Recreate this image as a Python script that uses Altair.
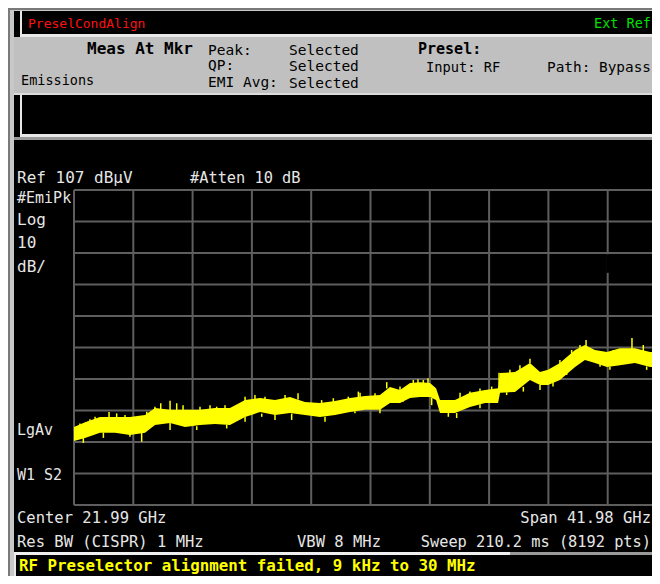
import altair as alt
import pandas as pd

# ---------------- data ----------------
# Trace envelope (frequency in GHz, upper / lower edge of the noisy trace in dBuV)
freq_ghz = [1.00, 1.78, 2.84, 3.90, 4.96, 6.03, 6.73, 7.80, 8.86, 9.92, 10.98, 12.04,
            13.11, 14.17, 15.23, 16.29, 17.35, 18.41, 19.48, 20.54, 21.60, 22.66, 23.37,
            24.08, 24.79, 25.49, 26.20, 26.63, 26.91, 27.97, 29.03, 30.10, 31.02, 31.16,
            32.22, 33.28, 33.99, 34.56, 35.40, 36.47, 37.17, 37.88, 38.73, 39.65, 40.71,
            41.78, 42.48]
trace_hi = [31.8, 33.3, 34.9, 34.9, 34.9, 35.6, 37.8, 37.2, 37.2, 37.2, 37.8, 37.8,
            40.3, 41.0, 40.3, 41.3, 39.7, 39.4, 40.0, 41.0, 41.6, 41.9, 44.5,
            43.5, 45.7, 46.0, 45.7, 44.1, 40.3, 40.3, 42.6, 43.5, 44.1, 48.9,
            49.2, 52.1, 49.2, 49.9, 52.1, 56.2, 57.8, 56.2, 55.6, 56.8, 56.8,
            55.6, 55.3]
trace_lo = [27.3, 28.3, 29.9, 29.9, 29.2, 29.9, 32.4, 33.0, 31.8, 32.4, 32.7, 32.4,
            34.9, 36.5, 35.6, 36.2, 35.6, 34.9, 35.6, 36.5, 37.2, 37.2, 39.4,
            39.4, 41.0, 41.3, 41.3, 40.3, 36.2, 36.2, 38.1, 39.4, 39.4, 42.6,
            42.9, 46.7, 45.1, 45.1, 46.7, 50.8, 53.0, 52.1, 50.8, 51.4, 52.1,
            50.8, 50.8]

# Individual noise spikes (frequency GHz, edge of band, tip) in dBuV
spike_f = [3.48, 7.14, 7.80, 8.72, 13.11, 15.94, 16.86, 21.25, 23.14, 25.35, 26.06,
           28.33, 31.09, 33.28, 37.25, 40.50,
           1.42, 2.13, 2.49, 4.02, 4.61, 6.15, 6.73, 8.27, 9.92, 10.63, 11.10, 11.69,
           13.81, 14.52, 18.53, 19.36, 20.42, 21.13, 22.31, 24.08, 25.02, 25.73, 29.03,
           29.74, 30.57, 31.86, 32.57, 35.40, 36.23, 36.82, 39.18, 41.30, 42.13,
           5.79, 13.11, 15.23, 28.09, 33.99, 34.91, 38.24, 41.54,
           1.66, 3.08, 4.96, 7.80, 9.69, 11.81, 14.29, 16.41, 18.77, 20.89, 22.66,
           24.29, 26.32, 27.50, 29.74, 31.63, 32.81, 35.88, 38.94, 42.25]
spike_base = [34.5, 37.0, 37.0, 37.0, 40.0, 40.5, 40.5, 41.3, 44.0, 45.5, 45.5,
              40.5, 44.0, 52.0, 57.5, 56.5,
              32.0, 33.5, 34.0, 34.5, 34.5, 35.5, 37.0, 37.0, 37.0, 37.5, 37.5, 37.5,
              40.5, 40.5, 39.0, 39.5, 40.5, 41.0, 41.5, 43.0, 45.5, 45.5, 42.0,
              43.0, 43.5, 48.5, 49.5, 51.5, 55.0, 56.5, 55.5, 55.5, 55.0,
              30.0, 35.0, 35.6, 36.2, 45.1, 46.0, 52.0, 51.0,
              28.5, 30.0, 29.5, 33.0, 32.0, 32.5, 36.0, 36.0, 35.0, 36.8, 37.5,
              40.5, 41.0, 36.5, 39.0, 42.8, 44.5, 49.0, 51.0, 50.8]
spike_tip = [36.5, 39.3, 40.1, 38.7, 41.4, 41.9, 42.5, 42.6, 46.0, 46.9, 47.2,
             42.6, 49.0, 53.4, 59.4, 60.0,
             32.9, 34.2, 35.0, 36.1, 35.6, 36.6, 38.2, 39.3, 38.2, 38.7, 38.2, 38.7,
             41.9, 41.4, 40.3, 40.9, 41.4, 43.0, 42.5, 44.6, 46.7, 46.7, 43.0,
             44.0, 44.6, 49.9, 51.4, 53.0, 56.2, 57.8, 56.2, 57.8, 56.8,
             27.1, 33.4, 34.0, 34.6, 43.5, 44.6, 50.9, 49.9,
             26.7, 28.3, 28.7, 30.8, 30.8, 31.3, 35.0, 34.0, 33.4, 36.1, 36.1,
             39.8, 38.7, 35.0, 37.7, 41.9, 43.0, 48.3, 49.9, 49.3]

# Graticule (10 divisions each way): Center 21.99 GHz, Span 41.98 GHz; Ref 107 dBuV, 10 dB/div
grid_freqs = [1.0, 5.198, 9.396, 13.594, 17.792, 21.99, 26.188, 30.386, 34.584, 38.782, 42.98]
grid_levels = [7, 17, 27, 37, 47, 57, 67, 77, 87, 97, 107]

# ---------------- styling / layout ----------------
OFF = 8
MONO = "DejaVu Sans Mono"
GRID = "#5e5e5e"
TXT = "#e6e6e6"
YEL = "#ffff00"
PANEL = "#c0c0c0"
RIGHT = 651  # right limit of the visible page area

one = pd.DataFrame({"k": [0]})

xs = alt.Scale(domain=[1.0, 42.98], range=[74 - OFF, 667 - OFF], nice=False, zero=False)
ys = alt.Scale(domain=[7, 107], range=[505 - OFF, 190 - OFF], nice=False, zero=False)


def box(x1, y1, x2, y2, color):
    return alt.Chart(one).mark_rect(color=color).encode(
        x=alt.value(x1 - OFF), x2=alt.value(x2 - OFF),
        y=alt.value(y1 - OFF), y2=alt.value(y2 - OFF))


def label(s, x, y, color, size, bold=False, align="left"):
    return alt.Chart(one).mark_text(
        text=s, align=align, baseline="alphabetic", font=MONO, fontSize=size,
        fontWeight="bold" if bold else "normal", color=color
    ).encode(x=alt.value(x - OFF), y=alt.value(y - OFF))


layers = []
# frame & panels
layers += [
    box(8, 8, 660, 584, "#000000"),
    box(8, 8, 10, 584, "#7a7a7a"),
    box(10, 10, 14, 584, "#c8c8c8"),
    box(8, 8, 660, 10, "#7a7a7a"),
    box(10, 10, 660, 11, "#c8c8c8"),
    box(20, 11, 22, 36, "#e8e8e8"),
    box(20, 34, 660, 37, "#e8e8e8"),
    box(14, 37, 660, 93, PANEL),
    box(14, 93, 660, 95, "#dcdcdc"),
    box(20, 95, 22, 137, "#e8e8e8"),
    box(20, 134, 660, 137, "#e8e8e8"),
    box(14, 137, 660, 140, "#9a9a9a"),
    box(14, 552, 660, 555, "#9a9a9a"),
    box(14, 552, 510, 555, "#f0f0f0"),
    box(14, 555, 16, 584, "#e8e8e8"),
]

# header texts
layers += [
    label("PreselCondAlign", 28, 28, "#ff1010", 13),
    label("Ext Ref", RIGHT, 28, "#00e000", 13.5, align="right"),
    label("Meas At Mkr", 87, 54, "#000000", 16, bold=True),
    label("Peak:", 208, 55, "#000000", 14.5),
    label("QP:", 208, 70, "#000000", 14.5),
    label("EMI Avg:", 208, 87, "#000000", 14.5),
    label("Selected", 289, 55, "#000000", 14.5),
    label("Selected", 289, 71, "#000000", 14.5),
    label("Selected", 289, 88, "#000000", 14.5),
    label("Emissions", 21, 85, "#000000", 13.5),
    label("Presel:", 418, 54, "#000000", 15, bold=True),
    label("Input: RF", 426, 72, "#000000", 13.7),
    label("Path: Bypass", RIGHT, 72, "#000000", 14.4, align="right"),
]

# graticule
vgrid = alt.Chart(pd.DataFrame({"f": grid_freqs})).mark_rule(color=GRID, strokeWidth=2).encode(
    x=alt.X("f:Q", scale=xs, axis=None), y=alt.value(190 - OFF), y2=alt.value(505 - OFF))
hgrid = alt.Chart(pd.DataFrame({"lv": grid_levels})).mark_rule(color=GRID, strokeWidth=2).encode(
    y=alt.Y("lv:Q", scale=ys, axis=None), x=alt.value(74 - OFF), x2=alt.value(667 - OFF))
gap = alt.Chart(pd.DataFrame({"f": [38.782], "a": [86.6], "b": [80.7]})).mark_rule(
    color="#000000", strokeWidth=3).encode(
    x=alt.X("f:Q", scale=xs, axis=None), y=alt.Y("a:Q", scale=ys, axis=None), y2="b:Q")
layers += [vgrid, hgrid, gap]

# trace
trace_df = pd.DataFrame({"f": freq_ghz, "hi": trace_hi, "lo": trace_lo})
band = alt.Chart(trace_df).mark_area(color=YEL, opacity=1, interpolate="linear").encode(
    x=alt.X("f:Q", scale=xs, axis=None),
    y=alt.Y("hi:Q", scale=ys, axis=None),
    y2="lo:Q")
spk = alt.Chart(pd.DataFrame({"f": spike_f, "a": spike_base, "b": spike_tip})).mark_rule(
    color=YEL, strokeWidth=1.5).encode(
    x=alt.X("f:Q", scale=xs, axis=None), y=alt.Y("a:Q", scale=ys, axis=None), y2="b:Q")
layers += [band, spk]

# annotation texts in display
layers += [
    label("Ref 107 dBµV", 17, 183, TXT, 16),
    label("#Atten 10 dB", 190, 183, TXT, 15.3),
    label("#EmiPk", 17, 203, TXT, 15),
    label("Log", 17, 225, TXT, 16),
    label("10", 17, 248, TXT, 16),
    label("dB/", 17, 272, TXT, 16),
    label("LgAv", 17, 435, TXT, 15),
    label("W1  S2", 17, 480, TXT, 15),
    label("Center 21.99 GHz", 17, 523, TXT, 15.5),
    label("Span 41.98 GHz", RIGHT, 523, TXT, 15.5, align="right"),
    label("Res BW (CISPR) 1 MHz", 17, 547, TXT, 15.5),
    label("VBW 8 MHz", 297, 547, TXT, 15.5),
    label("Sweep 210.2 ms (8192 pts)", RIGHT, 547, TXT, 15.3, align="right"),
    label("RF Preselector alignment failed, 9 kHz to 30 MHz", 19, 571, YEL, 15.8, bold=True),
]

chart = alt.layer(*layers).properties(
    width=644, height=568, padding=0,
    autosize=alt.AutoSizeParams(type="none"),
    background="#ffffff",
).configure_view(strokeWidth=0)

chart.save("out.html", embed_options={"renderer": "svg", "actions": False})
